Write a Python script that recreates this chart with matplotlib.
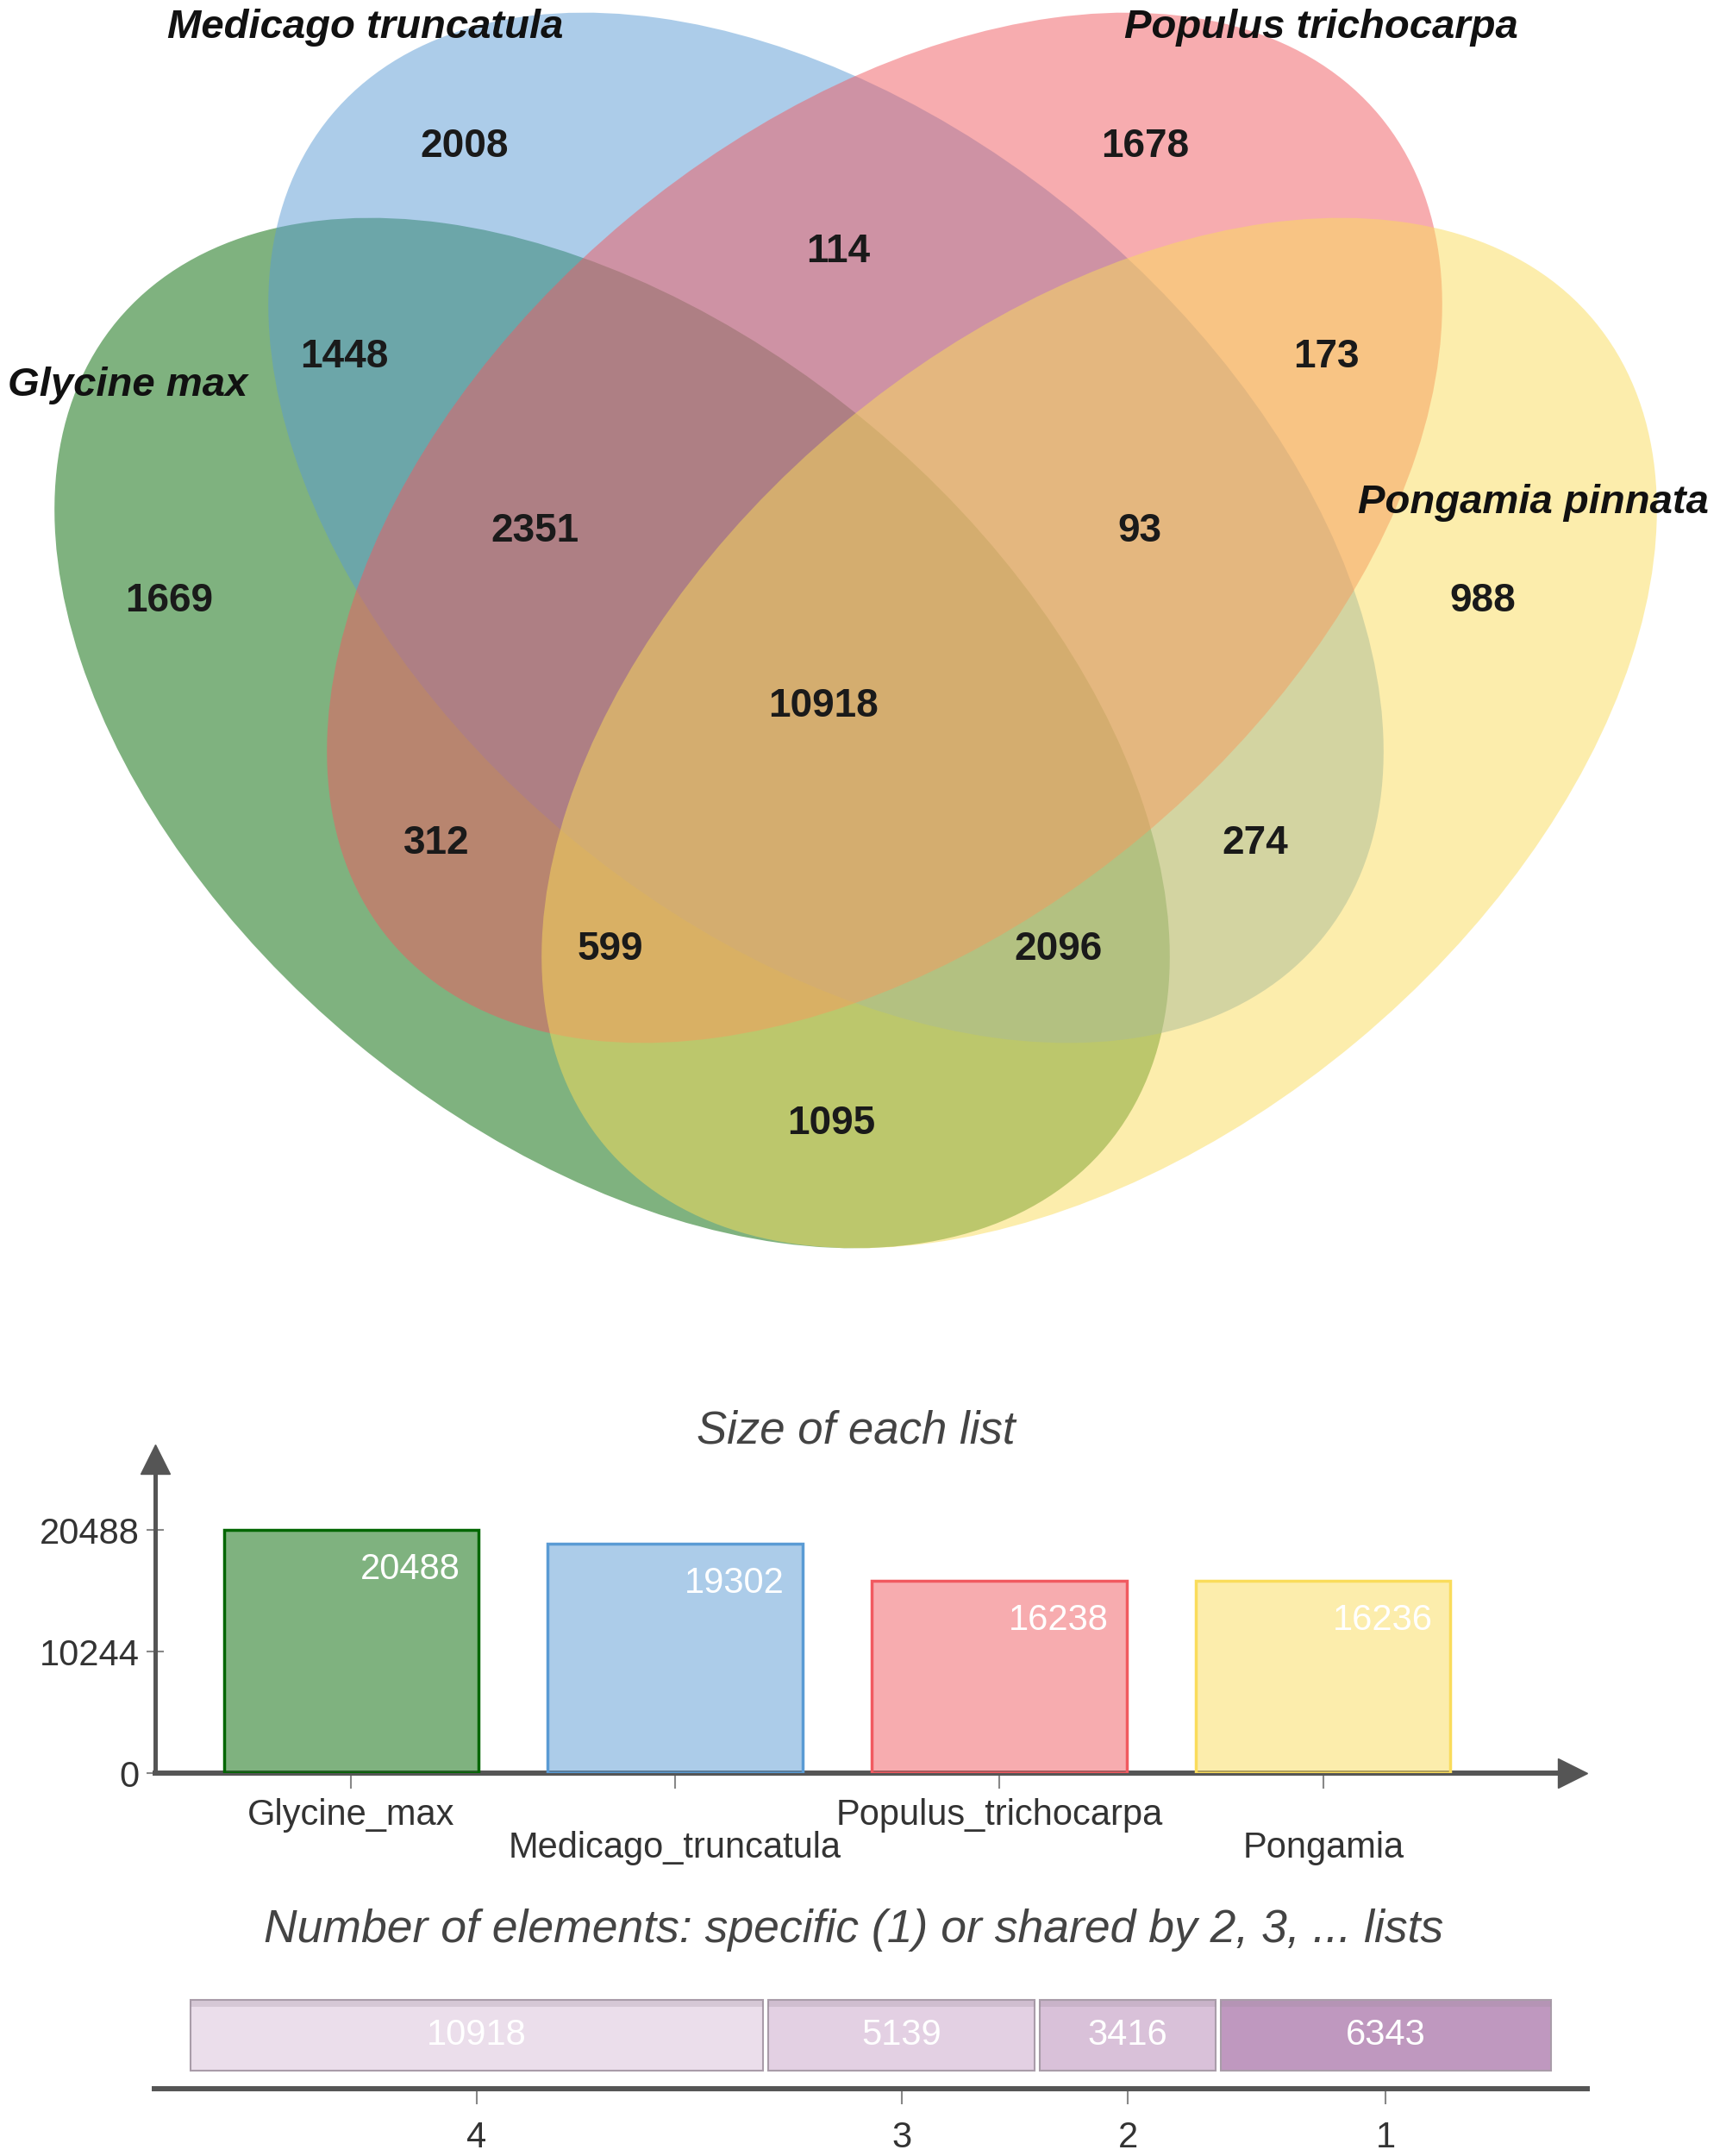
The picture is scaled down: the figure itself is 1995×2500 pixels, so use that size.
import numpy as np
import matplotlib.pyplot as plt
import matplotlib.transforms as mtransforms
from matplotlib.patches import Ellipse

plt.rcParams['font.family'] = ['Liberation Sans', 'DejaVu Sans']

# ---- data ----
species = ['Glycine max', 'Medicago truncatula', 'Populus trichocarpa', 'Pongamia pinnata']
list_names = ['Glycine_max', 'Medicago_truncatula', 'Populus_trichocarpa', 'Pongamia']
list_sizes = [20488, 19302, 16238, 16236]
size_ticks = [0, 10244, 20488]

# regions of the venn: G=Glycine, M=Medicago, P=Populus, Y=Pongamia
region_keys = ['G', 'M', 'P', 'Y', 'MP', 'GM', 'PY', 'GMP', 'MPY',
               'GMPY', 'GP', 'MY', 'GPY', 'GMY', 'GY']
region_counts = [1669, 2008, 1678, 988, 114, 1448, 173, 2351, 93,
                 10918, 312, 274, 599, 2096, 1095]

shared_by = ['4', '3', '2', '1']
shared_counts = [10918, 5139, 3416, 6343]

# ---- layout (pixel coordinates of a 1995x2500 canvas) ----
W, H = 1995, 2500
base_rgb = [(0, 102, 0), (90, 155, 212), (241, 90, 96), (250, 220, 91)]
base_col = [tuple(c / 255 for c in rgb) for rgb in base_rgb]

ell_centers = [(710, 850), (958, 612), (1026, 612), (1275, 850)]
ell_angles = [39.8, 39.8, -39.8, -39.8]
ell_w, ell_h = 1494, 932

name_pos = [(148, 447), (424, 32), (1532, 32), (1778, 583)]
label_pos = {
    'G': (196, 697), 'M': (539, 170), 'P': (1328, 170), 'Y': (1720, 697),
    'MP': (972, 292), 'GM': (399, 414), 'PY': (1538, 414),
    'GMP': (620, 616), 'MPY': (1322, 616), 'GMPY': (955, 819),
    'GP': (506, 978), 'MY': (1456, 978), 'GPY': (708, 1101),
    'GMY': (1227, 1101), 'GY': (964, 1303),
}

fig = plt.figure(figsize=(W / 100, H / 100), dpi=100)

# Venn diagram on a full-canvas axes
ax_v = fig.add_axes([0, 0, 1, 1])
ax_v.set_xlim(0, W)
ax_v.set_ylim(H, 0)
ax_v.set_axis_off()

for (cx, cy), ang, col in zip(ell_centers, ell_angles, base_col):
    ax_v.add_patch(Ellipse((cx, cy), ell_w, ell_h, angle=ang,
                           facecolor=col, alpha=0.5, edgecolor='none'))

for name, (x, y) in zip(species, name_pos):
    ax_v.text(x, y, name, ha='center', va='center', fontsize=34,
              fontweight='bold', fontstyle='italic', color='#111111')

for key, cnt in zip(region_keys, region_counts):
    x, y = label_pos[key]
    ax_v.text(x, y, str(cnt), ha='center', va='center', fontsize=33,
              fontweight='bold', color='#1a1a1a')

ax_v.text(993, 1660, 'Size of each list', ha='center', va='center',
          fontsize=38, fontstyle='italic', color='#444444')
ax_v.text(990, 2238, 'Number of elements: specific (1) or shared by 2, 3, ... lists',
          ha='center', va='center', fontsize=38.5, fontstyle='italic', color='#444444')

# ---- bar chart: size of each list ----
axis_col = '#555555'
ax_b = fig.add_axes([180 / W, 1 - 2056 / H, (1824 - 180) / W, (2056 - 1692) / H])
ax_b.patch.set_alpha(0)
xs = np.arange(len(list_sizes))
bar_w = 0.785
face = [(*c, 0.5) for c in base_col]
ax_b.bar(xs, list_sizes, width=bar_w, color=face, edgecolor=base_col,
         linewidth=2.5, zorder=3)
ax_b.set_xlim(-0.604, 3.769)
ax_b.set_ylim(0, 26450)
for side in ['top', 'right']:
    ax_b.spines[side].set_visible(False)
ax_b.spines['bottom'].set_linewidth(4.3)
ax_b.spines['left'].set_linewidth(3.6)
ax_b.spines['bottom'].set_color(axis_col)
ax_b.spines['left'].set_color(axis_col)
ax_b.plot(1, 0, '>', color=axis_col, ms=24, transform=ax_b.transAxes, clip_on=False)
ax_b.plot(0, 1, '^', color=axis_col, ms=24, transform=ax_b.transAxes, clip_on=False)

ax_b.set_yticks(size_ticks)
ax_b.set_yticklabels([str(v) for v in size_ticks])
ax_b.tick_params(axis='y', direction='inout', length=14, width=1.5, color='#888888',
                 labelsize=30, labelcolor='#333333', pad=6)
ax_b.set_xticks(xs)
ax_b.set_xticklabels([])
ax_b.tick_params(axis='x', direction='out', length=13, width=1.5, color='#888888')

val_tr = mtransforms.offset_copy(ax_b.transData, fig=fig, x=-21, y=-46, units='dots')
for xi, v in zip(xs, list_sizes):
    ax_b.text(xi + bar_w / 2, v, str(v), transform=val_tr, ha='right', va='center',
              fontsize=30, color='white', zorder=4)

lab_tr = mtransforms.blended_transform_factory(ax_b.transData, ax_b.transAxes)
for i, (xi, name) in enumerate(zip(xs, list_names)):
    yrow = -0.1346 if i % 2 == 0 else -0.239
    ax_b.text(xi, yrow, name, transform=lab_tr, ha='center', va='center',
              fontsize=30, color='#333333')

# ---- strip: elements shared by n lists ----
ax_s = fig.add_axes([179 / W, 1 - 2422 / H, (1841 - 179) / W, (2422 - 2300) / H])
ax_s.patch.set_alpha(0)
starts = np.concatenate([[0], np.cumsum(shared_counts)[:-1]])
centers = starts + np.array(shared_counts) / 2
inset = 49
strip_cols = ['#ebdeeb', '#e3d0e3', '#d9c1d9', '#bf98bf']
ax_s.barh(0.508, np.array(shared_counts) - 2 * inset, left=starts + inset, height=0.672,
          color=strip_cols, edgecolor='#a99ca9', linewidth=1.5)
# slightly darker top band, as in the reference rendering
ax_s.barh(0.81, np.array(shared_counts) - 2 * inset, left=starts + inset, height=0.06,
          color='#9a8a9a', alpha=0.25, linewidth=0)
for c, v in zip(centers, shared_counts):
    ax_s.text(c, 0.508, str(v), ha='center', va='center', fontsize=30, color='white')
ax_s.set_xlim(-636, 26452)
ax_s.set_ylim(0, 1)
for side in ['top', 'right', 'left']:
    ax_s.spines[side].set_visible(False)
ax_s.spines['bottom'].set_linewidth(4.3)
ax_s.spines['bottom'].set_color(axis_col)
ax_s.set_yticks([])
ax_s.set_xticks(centers)
ax_s.set_xticklabels(shared_by)
ax_s.tick_params(axis='x', direction='out', length=13, width=1.5, color='#888888',
                 labelsize=30, labelcolor='#333333', pad=14)

fig.savefig('out.png', dpi=100)
